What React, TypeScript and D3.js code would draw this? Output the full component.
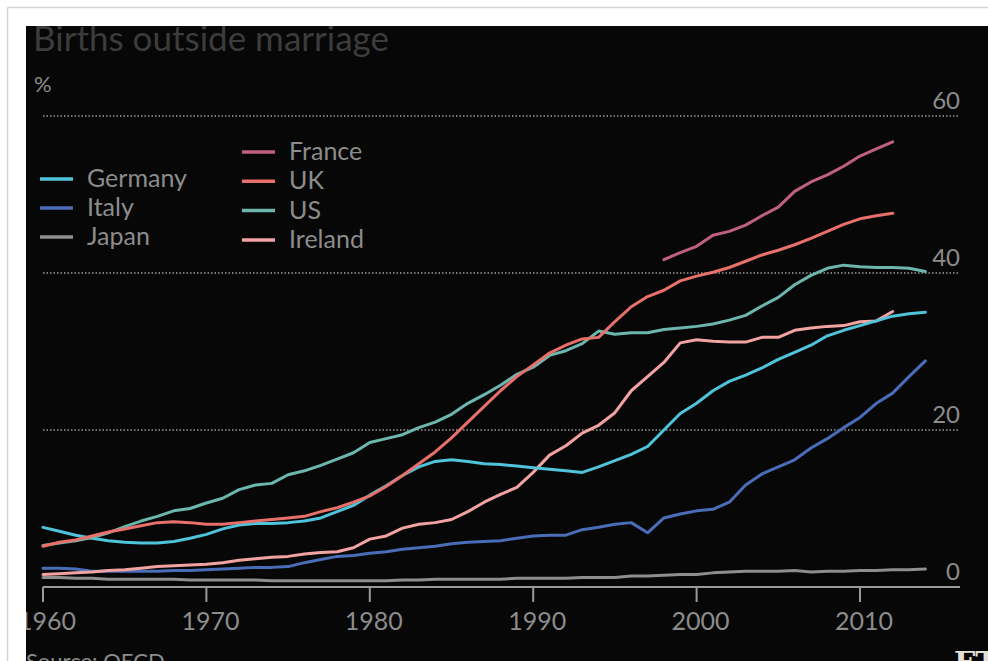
import React from "react";
import * as d3 from "d3";

// data (per cent of live births)
const germanyStart = 1960;
const germany = [
  7.6, 7.1, 6.6, 6.2, 5.9, 5.7, 5.6, 5.6, 5.8, 6.2,
  6.7, 7.4, 7.9, 8.1, 8.1, 8.2, 8.4, 8.8, 9.6, 10.4,
  11.7, 12.9, 14.2, 15.3, 16.0, 16.2, 16.0, 15.7, 15.6, 15.4,
  15.2, 15.0, 14.8, 14.6, 15.3, 16.1, 16.9, 17.9, 20.0, 22.1,
  23.4, 25.0, 26.2, 27.0, 27.9, 29.0, 29.9, 30.8, 32.0, 32.7,
  33.3, 33.9, 34.5, 34.8, 35.0,
];

const usStart = 1960;
const us = [
  5.3, 5.6, 5.9, 6.3, 6.9, 7.7, 8.4, 9.0, 9.7, 10.0,
  10.7, 11.3, 12.4, 13.0, 13.2, 14.3, 14.8, 15.5, 16.3, 17.1,
  18.4, 18.9, 19.4, 20.3, 21.0, 22.0, 23.4, 24.5, 25.7, 27.1,
  28.0, 29.5, 30.1, 31.0, 32.6, 32.2, 32.4, 32.4, 32.8, 33.0,
  33.2, 33.5, 34.0, 34.6, 35.8, 36.9, 38.5, 39.7, 40.6, 41.0,
  40.8, 40.7, 40.7, 40.6, 40.2,
];

const ukStart = 1960;
const uk = [
  5.2, 5.7, 6.0, 6.5, 7.0, 7.4, 7.8, 8.2, 8.3, 8.2,
  8.0, 8.0, 8.2, 8.4, 8.6, 8.8, 9.0, 9.6, 10.1, 10.8,
  11.6, 12.8, 14.2, 15.7, 17.2, 19.0, 21.0, 23.0, 25.0, 26.8,
  28.3, 29.8, 30.8, 31.6, 31.8, 33.8, 35.7, 37.0, 37.8, 39.0,
  39.6, 40.1, 40.7, 41.5, 42.3, 42.9, 43.6, 44.4, 45.3, 46.2,
  46.9, 47.3, 47.6,
];

const franceStart = 1998;
const france = [41.7, 42.6, 43.4, 44.8, 45.3, 46.1, 47.3, 48.4, 50.4, 51.6, 52.5, 53.6, 54.9, 55.8, 56.7];

const irelandStart = 1960;
const ireland = [
  1.6, 1.7, 1.8, 1.9, 2.1, 2.2, 2.4, 2.6, 2.7, 2.8,
  2.9, 3.1, 3.4, 3.6, 3.8, 3.9, 4.2, 4.4, 4.5, 5.0,
  6.1, 6.5, 7.5, 8.0, 8.2, 8.6, 9.6, 10.8, 11.8, 12.7,
  14.6, 16.8, 18.0, 19.6, 20.6, 22.2, 25.0, 26.8, 28.6, 31.1,
  31.5, 31.3, 31.2, 31.2, 31.8, 31.8, 32.7, 33.0, 33.2, 33.3,
  33.8, 33.9, 35.1,
];

const italyStart = 1960;
const italy = [
  2.4, 2.4, 2.3, 2.0, 2.0, 2.0, 2.0, 2.0, 2.1, 2.1,
  2.2, 2.3, 2.4, 2.5, 2.5, 2.6, 3.1, 3.5, 3.9, 4.0,
  4.3, 4.5, 4.8, 5.0, 5.2, 5.5, 5.7, 5.8, 5.9, 6.2,
  6.5, 6.6, 6.6, 7.3, 7.6, 8.0, 8.2, 6.9, 8.8, 9.3,
  9.7, 9.9, 10.8, 13.0, 14.4, 15.3, 16.2, 17.7, 18.9, 20.3,
  21.6, 23.4, 24.7, 26.8, 28.8,
];

const japanStart = 1960;
const japan = [
  1.2, 1.2, 1.1, 1.1, 1.0, 1.0, 1.0, 1.0, 1.0, 0.9,
  0.9, 0.9, 0.9, 0.9, 0.8, 0.8, 0.8, 0.8, 0.8, 0.8,
  0.8, 0.8, 0.9, 0.9, 1.0, 1.0, 1.0, 1.0, 1.0, 1.1,
  1.1, 1.1, 1.1, 1.2, 1.2, 1.2, 1.4, 1.4, 1.5, 1.6,
  1.6, 1.8, 1.9, 2.0, 2.0, 2.0, 2.1, 1.9, 2.0, 2.0,
  2.1, 2.1, 2.2, 2.2, 2.3,
];

const xTicks = [1960, 1970, 1980, 1990, 2000, 2010];
const yTicks = [0, 20, 40, 60];

const series = [
  { name: "Japan", start: japanStart, values: japan, color: "#8e8e8e" },
  { name: "Italy", start: italyStart, values: italy, color: "#4a6db8" },
  { name: "Ireland", start: irelandStart, values: ireland, color: "#f2a3a1" },
  { name: "Germany", start: germanyStart, values: germany, color: "#4fc3da" },
  { name: "US", start: usStart, values: us, color: "#6cb6ae" },
  { name: "UK", start: ukStart, values: uk, color: "#e8706a" },
  { name: "France", start: franceStart, values: france, color: "#c0607f" },
];

const legendLeft = ["Germany", "Italy", "Japan"];
const legendRight = ["France", "UK", "US", "Ireland"];

const W = 988;
const H = 661;
const font = "Lato, 'Open Sans', sans-serif";
const grey = "#8c8c8c";

export default function App() {
  const x = d3.scaleLinear().domain([1960, 2010]).range([43, 860]);
  const y = d3.scaleLinear().domain([0, 60]).range([587, 116]);
  const right = 960;

  const line = d3
    .line<[number, number]>()
    .x((d) => x(d[0]))
    .y((d) => y(d[1]));

  const colorOf = (n: string) => series.find((s) => s.name === n)!.color;

  return (
    <div style={{ position: "absolute", left: 0, top: 0, width: W, height: H, overflow: "hidden" }}>
      <svg width={W} height={H} style={{ display: "block", background: "#fff" }}>
        <defs>
          <clipPath id="panel">
            <rect x={26} y={26} width={W - 26} height={H - 26} />
          </clipPath>
        </defs>
        {/* page frame */}
        <line x1={7.5} y1={7.5} x2={W} y2={7.5} stroke="#d4d4d4" strokeWidth={1.5} />
        <line x1={7.5} y1={7.5} x2={7.5} y2={H} stroke="#d4d4d4" strokeWidth={1.5} />
        <rect x={26} y={26} width={W - 26} height={H - 26} fill="#070707" />

        <g clipPath="url(#panel)" fontFamily={font}>
          <text x={33} y={51} fontSize={35} fill="#3c3c3c">
            Births outside marriage
          </text>
          <text x={34} y={92} fontSize={22} fill={grey}>
            %
          </text>

          {yTicks.map((t) =>
            t === 0 ? null : (
              <line
                key={"g" + t}
                x1={43}
                x2={right}
                y1={y(t)}
                y2={y(t)}
                stroke="#9a9a9a"
                strokeWidth={1.5}
                strokeDasharray="1.5 2"
              />
            )
          )}
          {yTicks.map((t) => (
            <text key={"yl" + t} x={right} y={y(t) - 7} fontSize={24} fill={grey} textAnchor="end">
              {t}
            </text>
          ))}

          <line x1={43} x2={right} y1={y(0)} y2={y(0)} stroke="#9a9a9a" strokeWidth={2} />
          {xTicks.map((t) => (
            <g key={"x" + t}>
              <line x1={x(t)} x2={x(t)} y1={y(0)} y2={y(0) + 15} stroke="#9a9a9a" strokeWidth={2} />
              <text x={x(t) + 4} y={630} fontSize={25} fill={grey} textAnchor="middle">
                {t}
              </text>
            </g>
          ))}

          {series.map((s) => (
            <path
              key={s.name}
              d={line(s.values.map((v, i) => [s.start + i, v] as [number, number])) || ""}
              fill="none"
              stroke={s.color}
              strokeWidth={3}
              strokeLinejoin="round"
              strokeLinecap="round"
            />
          ))}

          {legendLeft.map((n, i) => (
            <g key={n} transform={`translate(40,${179 + i * 29})`}>
              <line x1={0} x2={33} y1={0} y2={0} stroke={colorOf(n)} strokeWidth={3.5} />
              <text x={47} y={8} fontSize={25} fill={grey}>
                {n}
              </text>
            </g>
          ))}
          {legendRight.map((n, i) => (
            <g key={n} transform={`translate(242,${152 + i * 29.3})`}>
              <line x1={0} x2={33} y1={0} y2={0} stroke={colorOf(n)} strokeWidth={3.5} />
              <text x={47} y={8} fontSize={25} fill={grey}>
                {n}
              </text>
            </g>
          ))}

          <text x={26} y={669} fontSize={22} fill={grey}>
            Source: OECD
          </text>
          <text x={954} y={673} fontSize={30} fontWeight="bold" fontFamily="'DejaVu Serif', serif" fill="#e6dfd6">
            FT
          </text>
        </g>
      </svg>
    </div>
  );
}
